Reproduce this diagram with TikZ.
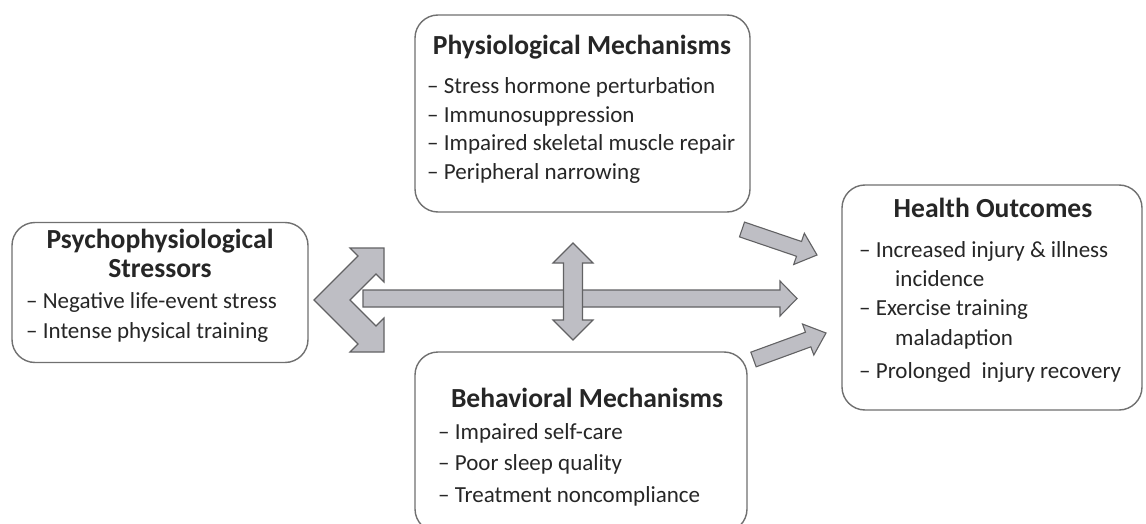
\documentclass[tikz,border=0pt]{standalone}
\usepackage{fontspec}
\setmainfont{Carlito}
\usetikzlibrary{calc}

\definecolor{boxline}{RGB}{112,112,112}
\definecolor{inktext}{RGB}{38,38,38}
\definecolor{arrowfill}{RGB}{190,190,196}
\definecolor{arrowedge}{RGB}{98,98,100}

% single-headed block arrow: #1 tail, #2 tip, #3 shaft half width, #4 head half width, #5 head length
\newcommand\blockarrow[5]{%
  \path[blockarrow]
    ($(#1)!#3!90:(#2)$) --
    ($($(#2)!#5!(#1)$)!#3!90:(#2)$) --
    ($($(#2)!#5!(#1)$)!#4!90:(#2)$) --
    (#2) --
    ($($(#2)!#5!(#1)$)!#4!-90:(#2)$) --
    ($($(#2)!#5!(#1)$)!#3!-90:(#2)$) --
    ($(#1)!#3!-90:(#2)$) -- cycle;}

% double-headed block arrow between #1 and #2
\newcommand\twoheadblock[5]{%
  \path[blockarrow]
    (#1) --
    ($($(#1)!#5!(#2)$)!#4!90:(#2)$) --
    ($($(#1)!#5!(#2)$)!#3!90:(#2)$) --
    ($($(#2)!#5!(#1)$)!#3!90:(#2)$) --
    ($($(#2)!#5!(#1)$)!#4!90:(#2)$) --
    (#2) --
    ($($(#2)!#5!(#1)$)!#4!-90:(#2)$) --
    ($($(#2)!#5!(#1)$)!#3!-90:(#2)$) --
    ($($(#1)!#5!(#2)$)!#3!-90:(#2)$) --
    ($($(#1)!#5!(#2)$)!#4!-90:(#2)$) -- cycle;}

\tikzset{
  box/.style={draw=boxline, line width=1.4pt, rounded corners=23pt, fill=white},
  boxtitle/.style={text=inktext, font=\fontsize{27.6}{32}\selectfont\bfseries, inner sep=0pt, anchor=mid},
  item/.style={text=inktext, font=\fontsize{23}{29}\selectfont, inner sep=0pt, anchor=mid west},
  blockarrow/.style={fill=arrowfill, draw=arrowedge, line width=1.1pt, line join=miter},
}

\begin{document}
\begin{tikzpicture}[x=1pt,y=-1pt]
\useasboundingbox (0,0) rectangle (1146,524);
\fill[white] (0,0) rectangle (1146,524);
\clip (0,0) rectangle (1146,524);

% boxes
\node[box, minimum width=296pt, minimum height=140pt] (stress) at (160,292.5) {};
\node[box, minimum width=335pt, minimum height=197pt] (phys) at (582.5,113.5) {};
\node[box, minimum width=300pt, minimum height=225pt] (health) at (992,297.5) {};
\node[box, minimum width=332pt, minimum height=180pt] (behav) at (581,442) {};

% stressors
\node[boxtitle] (stressT1) at (160,246) {Psychophysiological};
\node[boxtitle] (stressT2) at (160,275) {Stressors};
\node[item] (stress1) at (26,306) {– Negative life-event stress};
\node[item] (stress2) at (26,336) {– Intense physical training};

% physiological mechanisms
\node[boxtitle] (physT) at (582,52) {Physiological Mechanisms};
\node[item] (phys1) at (427,91) {– Stress hormone perturbation};
\node[item] (phys2) at (427,120) {– Immunosuppression};
\node[item] (phys3) at (427,148) {– Impaired skeletal muscle repair};
\node[item] (phys4) at (427,177) {– Peripheral narrowing};

% behavioral mechanisms
\node[boxtitle] (behavT) at (587,405) {Behavioral Mechanisms};
\node[item] (behav1) at (438,437) {– Impaired self-care};
\node[item] (behav2) at (438,468) {– Poor sleep quality};
\node[item] (behav3) at (438,500) {– Treatment noncompliance};

% health outcomes
\node[boxtitle] (healthT) at (993,215) {Health Outcomes};
\node[item] (health1) at (859,255) {– Increased injury \& illness};
\node[item] (health1b) at (895,284) {incidence};
\node[item] (health2) at (859,313) {– Exercise training};
\node[item] (health2b) at (895,343) {maladaption};
\node[item] (health3) at (859,376) {– Prolonged~ injury recovery};

% arrow end points
\coordinate (mainTail) at (363,298.5);
\coordinate (mainTip) at (797,298.5);
\coordinate (vertTop) at (573,243);
\coordinate (vertBot) at (573,340);
\coordinate (upTail) at (742,229.5);
\coordinate (upTip) at (817,255);
\coordinate (lowTail) at (753.5,359.5);
\coordinate (lowTip) at (826,333);

% bent two-way arrow beside the stressors
\path[blockarrow] (314,300) -- (358,256) -- (350,248) -- (384,248) -- (384,282) -- (376,274)
  -- (350,300) -- (376,326) -- (384,318) -- (384,352) -- (350,352) -- (358,344) -- cycle;

\blockarrow{mainTail}{mainTip}{8.5pt}{17.5pt}{17pt}
\twoheadblock{vertTop}{vertBot}{9.5pt}{20pt}{20pt}
\blockarrow{upTail}{upTip}{7.8pt}{16.5pt}{19pt}
\blockarrow{lowTail}{lowTip}{7.8pt}{16.5pt}{19pt}
\end{tikzpicture}
\end{document}
